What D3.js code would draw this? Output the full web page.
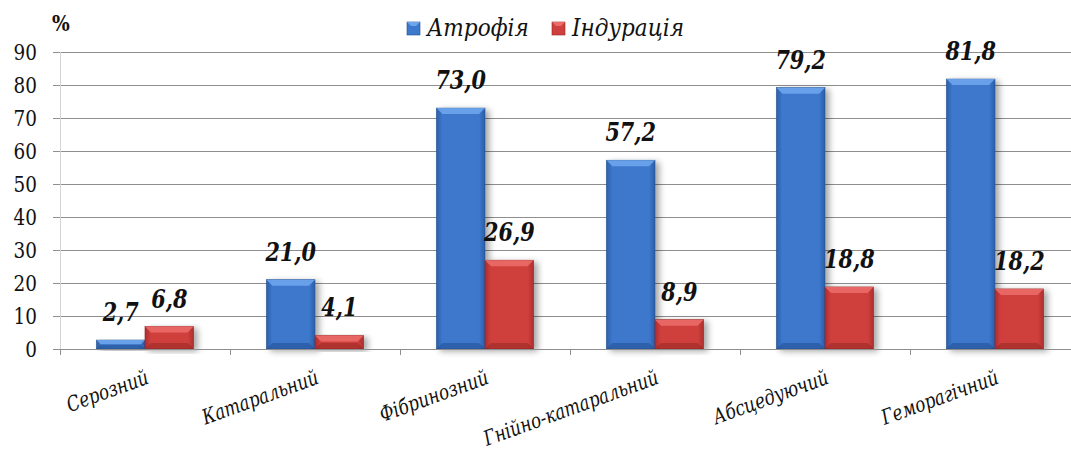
<!DOCTYPE html>
<html>
<head>
<meta charset="utf-8">
<script src="https://cdn.jsdelivr.net/npm/d3@7"></script>
<style>
  body { margin: 0; background: #fff; }
</style>
</head>
<body>
<svg id="chart" width="1071" height="461"></svg>
<script>
const categories = ["Серозний", "Катаральний", "Фібринозний", "Гнійно-катаральний", "Абсцедуючий", "Геморагічний"];
const atrophy = [2.7, 21.0, 73.0, 57.2, 79.2, 81.8];
const induration = [6.8, 4.1, 26.9, 8.9, 18.8, 18.2];
const seriesNames = ["Атрофія", "Індурація"];
const yTicks = [0, 10, 20, 30, 40, 50, 60, 70, 80, 90];

const palette = {
  "Атрофія": {main: "#3c78cc", light: "#6da5ec", dark: "#2c5ea8", edge: "#234f92"},
  "Індурація": {main: "#cf3f3d", light: "#ea6b68", dark: "#ad2f2d", edge: "#952624"}
};

// DejaVu Serif runs wider than Times, so texts get squeezed horizontally
const serif = "'DejaVu Serif', 'Liberation Serif', serif";

const svg = d3.select("#chart").attr("font-family", serif);

const x0 = d3.scaleBand().domain(categories).range([60, 1080]).padding(0);
const x1 = d3.scaleBand().domain(seriesNames).range([0, x0.bandwidth()]).paddingInner(0).paddingOuter(0.75);
const y = d3.scaleLinear().domain([0, 90]).range([349, 52]);

const defs = svg.append("defs");
const shadow = defs.append("filter").attr("id", "shadow")
    .attr("x", "-20%").attr("y", "-10%").attr("width", "160%").attr("height", "130%");
shadow.append("feDropShadow")
    .attr("dx", 4).attr("dy", 2).attr("stdDeviation", 3)
    .attr("flood-color", "#000").attr("flood-opacity", 0.35);

seriesNames.forEach((s, i) => {
  const c = palette[s];
  const g = defs.append("linearGradient").attr("id", "grad" + i)
      .attr("x1", "0%").attr("x2", "100%").attr("y1", "0%").attr("y2", "0%");
  g.append("stop").attr("offset", "0%").attr("stop-color", c.dark);
  g.append("stop").attr("offset", "12%").attr("stop-color", c.main);
  g.append("stop").attr("offset", "88%").attr("stop-color", c.main);
  g.append("stop").attr("offset", "100%").attr("stop-color", c.dark);
});

// gridlines
svg.append("g").selectAll("line").data(yTicks.filter(d => d > 0)).join("line")
    .attr("x1", 53).attr("x2", 1080)
    .attr("y1", d => y(d) + 0.5).attr("y2", d => y(d) + 0.5)
    .attr("stroke", "#8e8e8e").attr("stroke-width", 1);

svg.append("line")
    .attr("x1", 60.5).attr("x2", 60.5).attr("y1", y(90)).attr("y2", y(0))
    .attr("stroke", "#d4d4d4");

// y tick labels
svg.append("g").selectAll("text").data(yTicks).join("text")
    .attr("transform", d => `translate(37,${y(d)}) scale(0.8,1)`)
    .attr("dy", "0.36em")
    .attr("text-anchor", "end")
    .attr("font-size", 23)
    .attr("fill", "#111")
    .text(d => d);

svg.append("text")
    .attr("transform", "translate(52,31) scale(0.85,1)")
    .attr("font-size", 22).attr("font-weight", "bold")
    .attr("fill", "#111")
    .text("%");

// bars
const rows = categories.map((c, i) => ({cat: c, values: [atrophy[i], induration[i]]}));
const groups = svg.append("g").selectAll("g").data(rows).join("g")
    .attr("transform", d => `translate(${x0(d.cat)},0)`);

const bars = groups.selectAll("g.bar")
    .data(d => d.values.map((v, i) => ({s: seriesNames[i], i, v})))
    .join("g").attr("class", "bar");

const bev = 6;
bars.each(function(d) {
  const g = d3.select(this);
  const c = palette[d.s];
  const bx = x1(d.s), bw = x1.bandwidth();
  const top = y(d.v), bottom = y(0), h = bottom - top;
  const b = Math.min(bev, h / 2);
  g.append("rect")
      .attr("x", bx).attr("y", top).attr("width", bw).attr("height", h)
      .attr("fill", `url(#grad${d.i})`)
      .attr("stroke", c.edge).attr("stroke-width", 0.6)
      .attr("filter", "url(#shadow)");
  g.append("polygon")
      .attr("points", [[bx, top], [bx + bw, top], [bx + bw - b, top + b], [bx + b, top + b]].join(" "))
      .attr("fill", c.light).attr("opacity", 0.9);
  g.append("polygon")
      .attr("points", [[bx, bottom], [bx + bw, bottom], [bx + bw - b, bottom - b], [bx + b, bottom - b]].join(" "))
      .attr("fill", c.edge).attr("opacity", 0.55);
});

// axis at zero
svg.append("line")
    .attr("x1", 53).attr("x2", 1080).attr("y1", y(0) + 0.5).attr("y2", y(0) + 0.5)
    .attr("stroke", "#8e8e8e");
svg.append("g").selectAll("line")
    .data(d3.range(categories.length + 1))
    .join("line")
    .attr("x1", i => 60.5 + i * x0.step()).attr("x2", i => 60.5 + i * x0.step())
    .attr("y1", y(0)).attr("y2", y(0) + 6)
    .attr("stroke", "#8e8e8e");

// value labels
bars.append("text")
    .attr("transform", d => `translate(${x1(d.s) + x1.bandwidth() / 2},${y(d.v) - 19}) scale(0.8,1)`)
    .attr("text-anchor", "middle")
    .attr("font-size", 26)
    .attr("font-weight", "bold")
    .attr("font-style", "italic")
    .attr("fill", "#111")
    .text(d => d.v.toFixed(1).replace(".", ","));

// category labels
svg.append("g").selectAll("text").data(categories).join("text")
    .attr("text-anchor", "end")
    .attr("font-size", 21)
    .attr("font-style", "italic")
    .attr("fill", "#111")
    .attr("transform", d => `translate(${x0(d) + x0.bandwidth() / 2 + 5},383) rotate(-20) scale(0.8,1)`)
    .text(d => d);

// legend
const legend = svg.append("g");
const legendX = [407, 552];
seriesNames.forEach((s, i) => {
  const c = palette[s];
  const lg = legend.append("g").attr("transform", `translate(${legendX[i]},22)`);
  lg.append("rect").attr("width", 13).attr("height", 13)
      .attr("fill", c.main).attr("stroke", c.edge).attr("stroke-width", 0.6);
  lg.append("polygon").attr("points", "0,0 13,0 9,4 4,4").attr("fill", c.light);
  lg.append("text")
      .attr("transform", "translate(20,14) scale(0.9,1)")
      .attr("font-size", 24).attr("font-style", "italic")
      .attr("fill", "#111")
      .text(s);
});
</script>
</body>
</html>
